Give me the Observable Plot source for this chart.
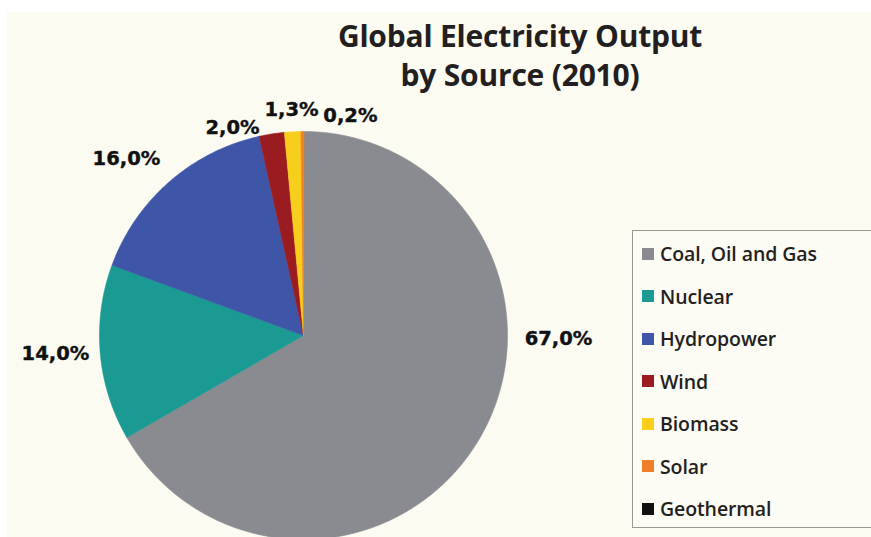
<!DOCTYPE html>
<html>
<head>
<meta charset="utf-8">
<script src="https://cdn.jsdelivr.net/npm/d3@7"></script>
<script src="https://cdn.jsdelivr.net/npm/@observablehq/plot@0.6"></script>
<style>
  html, body { margin: 0; padding: 0; }
  body { width: 871px; height: 537px; overflow: hidden; background: #ffffff; position: relative; }
  #bg { position: absolute; left: 7px; top: 12px; right: 0; bottom: 0; background: #fcfbf2; }
  #title { position: absolute; left: 310px; width: 420px; top: 16px; text-align: center;
    font-family: "Open Sans", sans-serif; font-weight: 700; font-size: 30px; line-height: 39px; color: #231f20; letter-spacing: -0.2px; }
  #chart { position: absolute; left: 0; top: 0; }
  #legend { position: absolute; left: 632px; top: 230px; width: 260px; height: 298px;
    border: 1px solid #9d978f; background: #fcfbf4; box-sizing: border-box; }
  .item { position: absolute; left: 9px; height: 22px; display: flex; align-items: center;
    font-family: "Open Sans", sans-serif; font-weight: 600; font-size: 19.5px; color: #231f20; letter-spacing: -0.1px; }
  .sw { width: 12px; height: 12px; margin-right: 6px; }
</style>
</head>
<body>
<div id="bg"></div>
<div id="chart"></div>
<div id="title">Global Electricity Output<br>by Source (2010)</div>
<div id="legend"></div>
<script>
// ---- data ----
const sources = ["Coal, Oil and Gas", "Nuclear", "Hydropower", "Wind", "Biomass", "Solar", "Geothermal"];
const shares = [67.0, 14.0, 16.0, 2.0, 1.3, 0.2, 0];
const labels = ["67,0%", "14,0%", "16,0%", "2,0%", "1,3%", "0,2%", null];
const colors = ["#8a8b90", "#1b9a94", "#3e55a8", "#9b1c20", "#f8ce1d", "#f07f2a", "#111111"];

// label anchor positions (in pie-radius units, relative to centre)
const labelX = [1.25, -1.216, -0.868, -0.348, -0.059, 0.23];
const labelY = [-0.015, -0.088, 0.868, 1.02, 1.108, 1.078];

// ---- build slices from the values ----
const table = sources.map((s, i) => ({source: s, value: shares[i]}));
const arcs = d3.pie().sort(null).value(d => d.value).startAngle(0).endAngle(2 * Math.PI)(table);
const pts = [];
for (const a of arcs) {
  if (a.endAngle - a.startAngle <= 0) continue;
  const s = a.data.source;
  pts.push({source: s, x: 0, y: 0});
  const n = Math.max(2, Math.ceil((a.endAngle - a.startAngle) / (Math.PI / 360)));
  for (let k = 0; k <= n; k++) {
    const t = a.startAngle + (a.endAngle - a.startAngle) * k / n;
    pts.push({source: s, x: Math.sin(t), y: Math.cos(t)});
  }
}
const labelData = labels.map((t, i) => ({text: t, x: labelX[i], y: labelY[i]})).filter(d => d.text);

const chart = Plot.plot({
  width: 871,
  height: 537,
  style: {background: "transparent", overflow: "visible"},
  x: {domain: [-1, 1], range: [99, 507], axis: null},
  y: {domain: [-1, 1], range: [539, 131], axis: null},
  color: {domain: sources, range: colors},
  marks: [
    Plot.line(pts, {x: "x", y: "y", z: "source", fill: "source", stroke: "source", strokeWidth: 0.6, curve: "linear-closed"}),
    Plot.text(labelData, {x: "x", y: "y", text: "text", fontSize: 19.5, fontWeight: "bold",
      fontFamily: "DejaVu Sans", fill: "#111", stroke: "#111", strokeWidth: 0.4})
  ]
});
document.getElementById("chart").appendChild(chart);

// ---- legend ----
const leg = document.getElementById("legend");
sources.forEach((s, i) => {
  const row = document.createElement("div");
  row.className = "item";
  row.style.top = (11.5 + i * 42.5) + "px";
  const sw = document.createElement("span");
  sw.className = "sw";
  sw.style.background = colors[i];
  row.appendChild(sw);
  row.appendChild(document.createTextNode(s));
  leg.appendChild(row);
});
</script>
</body>
</html>
